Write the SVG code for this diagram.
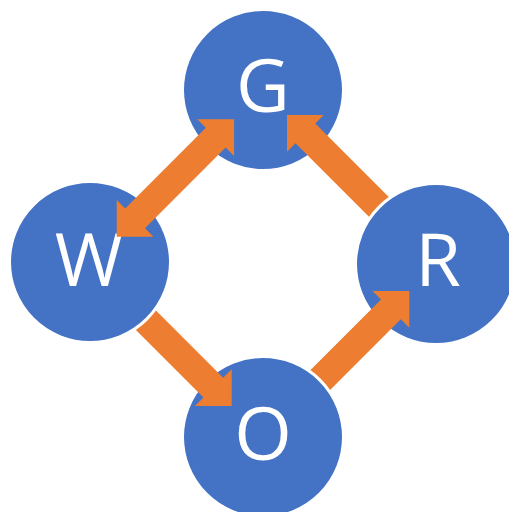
<svg xmlns="http://www.w3.org/2000/svg" width="509" height="512" viewBox="0 0 509 512">
  <style>
    .node circle { fill: #4472C4; stroke: #FFFFFF; stroke-width: 2; }
    .node text { fill: #FFFFFF; font-family: "Open Sans", "Liberation Sans", sans-serif; font-size: 74px; text-anchor: middle; }
    .arrow { fill: #ED7D31; }
  </style>
  <defs>
    <!-- masks cut each arrow's tail at the edge of the circle it starts from -->
    <mask id="cutW" maskUnits="userSpaceOnUse" x="0" y="0" width="509" height="512">
      <rect width="509" height="512" fill="#fff"/>
      <circle cx="90" cy="262" r="82" fill="#000"/>
    </mask>
    <mask id="cutR" maskUnits="userSpaceOnUse" x="0" y="0" width="509" height="512">
      <rect width="509" height="512" fill="#fff"/>
      <circle cx="436" cy="264" r="82" fill="#000"/>
    </mask>
    <mask id="cutO" maskUnits="userSpaceOnUse" x="0" y="0" width="509" height="512">
      <rect width="509" height="512" fill="#fff"/>
      <circle cx="263" cy="437" r="82" fill="#000"/>
    </mask>
  </defs>

  <g id="node-G" class="node">
    <circle cx="263" cy="90" r="80"/>
    <text x="263" y="112">G</text>
  </g>
  <g id="node-W" class="node">
    <circle cx="90" cy="262" r="80"/>
    <text x="89" y="286">W</text>
  </g>
  <g id="node-R" class="node">
    <circle cx="436" cy="264" r="80"/>
    <text x="438" y="286">R</text>
  </g>
  <g id="node-O" class="node">
    <circle cx="263" cy="437" r="80"/>
    <text x="263" y="460">O</text>
  </g>

  <g id="connectors" class="arrow">
    <!-- W <-> G -->
    <path d="M0,0 L26,-26 L26,-14 L140,-14 L140,-26 L166,0 L140,26 L140,14 L26,14 L26,26 Z"
          transform="translate(116.7,236.7) rotate(-45)"/>
    <!-- R -> G -->
    <g mask="url(#cutR)">
      <path d="M0,0 L-26,-26 L-26,-14 L-160,-14 L-160,14 L-26,14 L-26,26 Z"
            transform="translate(287,115) rotate(225)"/>
    </g>
    <!-- W -> O -->
    <g mask="url(#cutW)">
      <path d="M0,0 L-26,-26 L-26,-14 L-160,-14 L-160,14 L-26,14 L-26,26 Z"
            transform="translate(231.7,406) rotate(45)"/>
    </g>
    <!-- O -> R -->
    <g mask="url(#cutO)">
      <path d="M0,0 L-26,-26 L-26,-14 L-160,-14 L-160,14 L-26,14 L-26,26 Z"
            transform="translate(409.3,291) rotate(-45)"/>
    </g>
  </g>
</svg>
